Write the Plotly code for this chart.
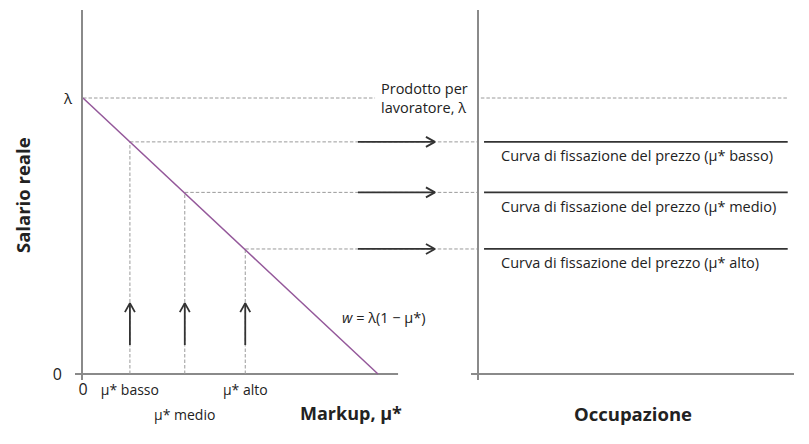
import plotly.graph_objects as go

# ---- data ----
lam = 1.0                                  # output per worker (λ)
mu_levels = [0.159, 0.345, 0.55]           # μ* basso, medio, alto
mu_labels = ["μ* basso", "μ* medio", "μ* alto"]
wage_levels = [0.841, 0.658, 0.453]        # real wage at each markup
markup_line_x = [0.0, 1.0]                 # w = λ(1 − μ*)
markup_line_y = [1.0, 0.0]
markup_axis_end = 1.068
right_arrow_from, right_arrow_to = 0.932, 1.193
up_arrow_from, up_arrow_to = 0.105, 0.257
lam_dash_left_end = 0.99
emp_line_start, emp_line_end = 0.016, 0.98
emp_lam_start = 0.006
curve_labels = ["Curva di fissazione del prezzo (μ* basso)",
                "Curva di fissazione del prezzo (μ* medio)",
                "Curva di fissazione del prezzo (μ* alto)"]

# ---- styles ----
OFF = 8                      # page body margin
W, H = 809 - 2 * OFF, 444 - 2 * OFF
FONT = "Open Sans"
FS = 14.5
TFS = 14
AX = "#8a8a8a"
DASH_C = "#9a9a9a"
DASH = "3.5px,2px"
PURPLE = "#94589a"
DARK = "#333333"
TXT = "#222222"
X_PX = 295.0   # px per markup unit
Y_PX = 276.0   # px per wage unit
X_RANGE_MAX = (479 - 83) / X_PX
Y_RANGE = [-6 / Y_PX, 364 / Y_PX]
PLOT_H = 370
TOP = 10 - OFF
BOT = H - (380 - OFF)

def px(s):  # screen x -> paper fraction
    return (s - OFF) / W

fig = go.Figure()

def line(x, y, color, width, dash="solid", xa="x", ya="y"):
    fig.add_trace(go.Scatter(x=x, y=y, mode="lines", xaxis=xa, yaxis=ya,
                             line=dict(color=color, width=width, dash=dash),
                             hoverinfo="skip", showlegend=False))

# baselines
line([0, markup_axis_end], [0, 0], AX, 2)
line([0, 1], [0, 0], AX, 2, xa="x2", ya="y2")

# λ dashed lines
line([0, lam_dash_left_end], [lam, lam], DASH_C, 1, DASH)
line([emp_lam_start, emp_line_end], [lam, lam], DASH_C, 1, DASH, "x2", "y2")

# dashed guides
for m, w in zip(mu_levels, wage_levels):
    line([m, m], [0, w], DASH_C, 1, DASH)
    line([m, X_RANGE_MAX], [w, w], DASH_C, 1, DASH)

# markup line
line(markup_line_x, markup_line_y, PURPLE, 1.5)

# arrows (shaft + open chevron head)
hx, hy = 9 / X_PX, 5 / Y_PX   # head size for right arrows
vx, vy = 5 / X_PX, 9 / Y_PX   # head size for up arrows
for w in wage_levels:
    line([right_arrow_from, right_arrow_to, None, right_arrow_to - hx, right_arrow_to, right_arrow_to - hx],
         [w, w, None, w + hy, w, w - hy], DARK, 1.8)
for m in mu_levels:
    line([m, m, None, m - vx, m, m + vx],
         [up_arrow_from, up_arrow_to, None, up_arrow_to - vy, up_arrow_to, up_arrow_to - vy], DARK, 1.8)

# price-setting curves (right panel)
for w in wage_levels:
    line([emp_line_start, emp_line_end], [w, w], DARK, 1.7, xa="x2", ya="y2")

ann = []
for w, t in zip(wage_levels, curve_labels):
    ann.append(dict(x=0.065, y=w, xref="x2", yref="y2", text=t, showarrow=False,
                    xanchor="left", yanchor="middle", yshift=-14,
                    font=dict(family=FONT, size=FS, color=TXT)))
ann += [
    dict(x=mu_levels[1], y=-35 / PLOT_H, xref="x", yref="paper", text=mu_labels[1],
         showarrow=False, xanchor="center", yanchor="middle",
         font=dict(family=FONT, size=TFS, color=TXT)),
    dict(x=px(68), y=lam, xref="paper", yref="y", text="λ", showarrow=False,
         xanchor="center", yanchor="middle", font=dict(family=FONT, size=15, color=TXT)),
    dict(x=px(379), y=lam, xref="paper", yref="y", text="Prodotto per<br>lavoratore, λ",
         showarrow=False, xanchor="left", yanchor="middle", align="left",
         font=dict(family=FONT, size=FS, color=TXT)),
    dict(x=px(340), y=0.206, xref="paper", yref="y", text="<i>w</i> = λ(1 − μ*)",
         showarrow=False, xanchor="left", yanchor="middle",
         font=dict(family=FONT, size=FS, color=TXT)),
    dict(x=px(22), y=0.5, xref="paper", yref="paper", text="<b>Salario reale</b>",
         textangle=-90, showarrow=False, xanchor="center", yanchor="middle",
         font=dict(family=FONT, size=18.5, color=TXT)),
    dict(x=px(351), y=-33 / PLOT_H, xref="paper", yref="paper", text="<b>Markup, μ*</b>",
         showarrow=False, xanchor="center", yanchor="middle",
         font=dict(family=FONT, size=18, color=TXT)),
    dict(x=px(633), y=-33 / PLOT_H, xref="paper", yref="paper", text="<b>Occupazione</b>",
         showarrow=False, xanchor="center", yanchor="middle",
         font=dict(family=FONT, size=18.5, color=TXT)),
]

fig.update_layout(
    width=W, height=H, margin=dict(l=0, r=0, t=TOP, b=BOT, autoexpand=False),
    paper_bgcolor="white", plot_bgcolor="white", showlegend=False,
    font=dict(family=FONT, size=TFS, color=TXT),
    xaxis=dict(domain=[px(83), px(479)], range=[0, X_RANGE_MAX], showgrid=False,
               zeroline=False, showline=False, ticks="", tickangle=0, automargin=False,
               tickvals=[0, mu_levels[0], mu_levels[2]],
               ticktext=["<span style='font-size:16px'>0</span>", mu_labels[0], mu_labels[2]],
               tickfont=dict(family=FONT, size=TFS, color=TXT), fixedrange=True),
    yaxis=dict(domain=[0, 1], range=Y_RANGE, showgrid=False, zeroline=False,
               showline=True, linecolor=AX, linewidth=2, ticks="outside", automargin=False,
               ticklen=6, tickwidth=2, tickcolor=AX, tickvals=[0], ticktext=["0"],
               ticklabelstandoff=10,
               tickfont=dict(family=FONT, size=16, color=TXT)),
    xaxis2=dict(domain=[px(479), px(794)], range=[0, 1], anchor="y2", visible=False,
                automargin=False),
    yaxis2=dict(domain=[0, 1], range=Y_RANGE, anchor="x2", showgrid=False, automargin=False,
                zeroline=False, showline=True, linecolor=AX, linewidth=2,
                ticks="outside", ticklen=6, tickwidth=2, tickcolor=AX,
                tickvals=[0], showticklabels=False),
    annotations=ann,
)

fig.write_html("out.html")
